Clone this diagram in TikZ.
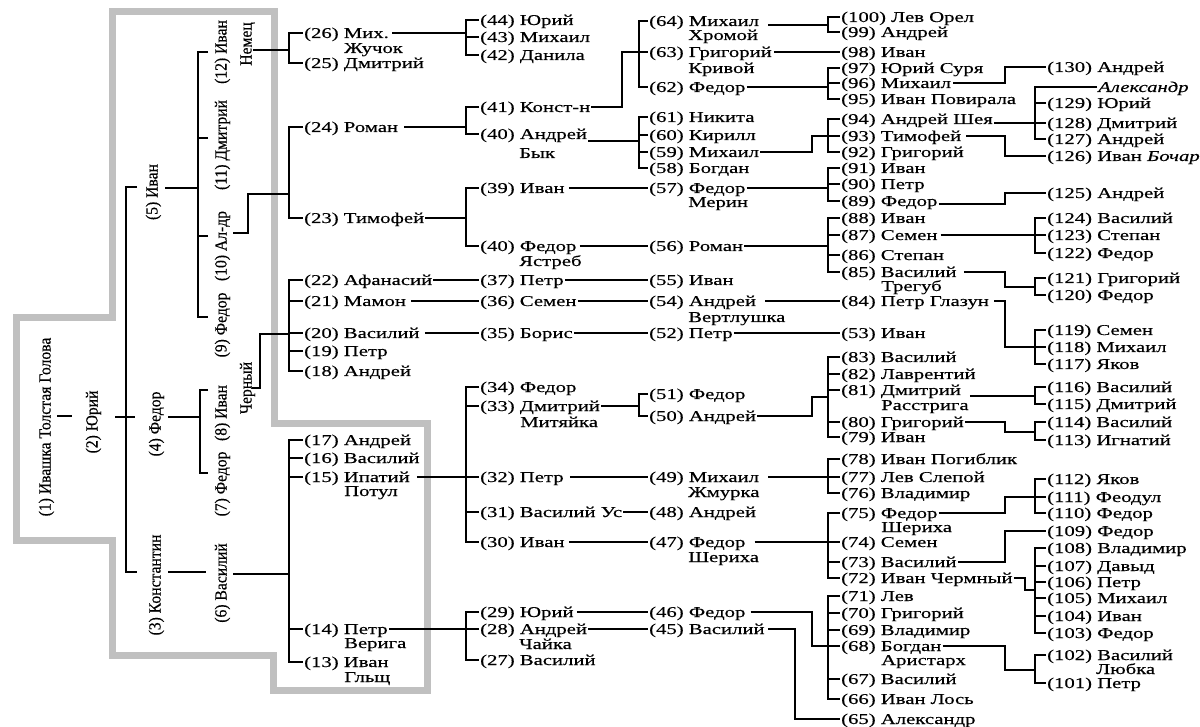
\documentclass[tikz,border=0pt]{standalone}
\usepackage{fontspec}
\setmainfont[FakeStretch=1.38,FakeBold=0.35]{Liberation Serif}
\newfontfamily\rotfam[FakeStretch=0.92,FakeBold=0.35]{Liberation Serif}
\newcommand\lblfont{\fontsize{15}{15}\selectfont}
\newcommand\rotlblfont{\rotfam\fontsize{17}{17}\selectfont}
\definecolor{framegray}{RGB}{192,192,192}
\begin{document}
\begin{tikzpicture}[x=1pt,y=-1pt,
  lbl/.style={anchor=west,inner xsep=1pt,inner ysep=0pt,text height=12pt,text depth=2pt,font=\lblfont},
  rotlbl/.style={rotate=90,inner sep=0pt,text height=12pt,text depth=1pt,font=\rotlblfont},
  wire/.style={line width=1.1pt},
  border/.style={line width=7pt,draw=framegray,line join=miter}]
\useasboundingbox[fill=white] (0,0) rectangle (1200,727);

% grey outline around the first generations
\draw[border] (112,12) -- (274,12) -- (274,423) -- (427,423) -- (427,690) -- (273,690)
  -- (273,655) -- (112,655) -- (112,540) -- (16,540) -- (16,318) -- (112,318) -- cycle;

% ---------- rotated generations ----------
\node[rotlbl] (n1) at (45,427) {(1) Ивашка Толстая Голова};
\node[rotlbl] (n2) at (92,422) {(2) Юрий};
\node[rotlbl] (n5) at (152,192) {(5) Иван};
\node[rotlbl] (n4) at (155,424) {(4) Федор};
\node[rotlbl] (n3) at (155,585) {(3) Константин};
\node[rotlbl] (n12) at (221,52) {(12) Иван};
\node[rotlbl] (n12b) at (246,44) {Немец};
\node[rotlbl] (n11) at (221,145) {(11) Дмитрий};
\node[rotlbl] (n10) at (221,246) {(10) Ал-др};
\node[rotlbl] (n9) at (221,325) {(9) Федор};
\node[rotlbl] (n8) at (221,413) {(8) Иван};
\node[rotlbl] (n8b) at (246,388) {Черный};
\node[rotlbl] (n7) at (221,484) {(7) Федор};
\node[rotlbl] (n6) at (221,583) {(6) Василий};

% ---------- column A ----------
\node[lbl] (n26) at (303,33) {(26) Мих.};
\node[lbl] (n26b) at (343,48) {Жучок};
\node[lbl] (n25) at (303,63) {(25) Дмитрий};
\node[lbl] (n24) at (303,127) {(24) Роман};
\node[lbl] (n23) at (303,218) {(23) Тимофей};
\node[lbl] (n22) at (303,280) {(22) Афанасий};
\node[lbl] (n21) at (303,301) {(21) Мамон};
\node[lbl] (n20) at (303,333) {(20) Василий};
\node[lbl] (n19) at (303,351) {(19) Петр};
\node[lbl] (n18) at (303,371) {(18) Андрей};
\node[lbl] (n17) at (303,440) {(17) Андрей};
\node[lbl] (n16) at (303,458) {(16) Василий};
\node[lbl] (n15) at (303,477) {(15) Ипатий};
\node[lbl] (n15b) at (343,491) {Потул};
\node[lbl] (n14) at (303,629) {(14) Петр};
\node[lbl] (n14b) at (343,643) {Верига};
\node[lbl] (n13) at (303,662) {(13) Иван};
\node[lbl] (n13b) at (343,677) {Гльщ};

% ---------- column B ----------
\node[lbl] (n44) at (479,20) {(44) Юрий};
\node[lbl] (n43) at (479,37) {(43) Михаил};
\node[lbl] (n42) at (479,55) {(42) Данила};
\node[lbl] (n41) at (479,107) {(41) Конст-н};
\node[lbl] (n40) at (479,134) {(40) Андрей};
\node[lbl] (n40b) at (518,153) {Бык};
\node[lbl] (n39) at (479,188) {(39) Иван};
\node[lbl] (n40f) at (479,246) {(40) Федор};
\node[lbl] (n40fb) at (518,261) {Ястреб};
\node[lbl] (n37) at (479,280) {(37) Петр};
\node[lbl] (n36) at (479,301) {(36) Семен};
\node[lbl] (n35) at (479,333) {(35) Борис};
\node[lbl] (n34) at (479,387) {(34) Федор};
\node[lbl] (n33) at (479,406) {(33) Дмитрий};
\node[lbl] (n33b) at (519,422) {Митяйка};
\node[lbl] (n32) at (479,477) {(32) Петр};
\node[lbl] (n31) at (479,512) {(31) Василий Ус};
\node[lbl] (n30) at (479,542) {(30) Иван};
\node[lbl] (n29) at (479,612) {(29) Юрий};
\node[lbl] (n28) at (479,629) {(28) Андрей};
\node[lbl] (n28b) at (518,644) {Чайка};
\node[lbl] (n27) at (479,660) {(27) Василий};

% ---------- column C ----------
\node[lbl] (n64) at (648,21) {(64) Михаил};
\node[lbl] (n64b) at (687,35) {Хромой};
\node[lbl] (n63) at (648,52) {(63) Григорий};
\node[lbl] (n63b) at (687,68) {Кривой};
\node[lbl] (n62) at (648,87) {(62) Федор};
\node[lbl] (n61) at (648,117) {(61) Никита};
\node[lbl] (n60) at (648,135) {(60) Кирилл};
\node[lbl] (n59) at (648,152) {(59) Михаил};
\node[lbl] (n58) at (648,168) {(58) Богдан};
\node[lbl] (n57) at (648,188) {(57) Федор};
\node[lbl] (n57b) at (687,202) {Мерин};
\node[lbl] (n56) at (648,246) {(56) Роман};
\node[lbl] (n55) at (648,280) {(55) Иван};
\node[lbl] (n54) at (648,301) {(54) Андрей};
\node[lbl] (n54b) at (687,317) {Вертлушка};
\node[lbl] (n52) at (648,333) {(52) Петр};
\node[lbl] (n51) at (648,394) {(51) Федор};
\node[lbl] (n50) at (648,416) {(50) Андрей};
\node[lbl] (n49) at (648,477) {(49) Михаил};
\node[lbl] (n49b) at (687,492) {Жмурка};
\node[lbl] (n48) at (648,512) {(48) Андрей};
\node[lbl] (n47) at (648,542) {(47) Федор};
\node[lbl] (n47b) at (687,557) {Шериха};
\node[lbl] (n46) at (648,612) {(46) Федор};
\node[lbl] (n45) at (648,629) {(45) Василий};

% ---------- column D ----------
\node[lbl] (n100) at (840,17) {(100) Лев Орел};
\node[lbl] (n99) at (840,32) {(99) Андрей};
\node[lbl] (n98) at (840,52) {(98) Иван};
\node[lbl] (n97) at (840,68) {(97) Юрий Суря};
\node[lbl] (n96) at (840,83) {(96) Михаил};
\node[lbl] (n95) at (840,99) {(95) Иван Повирала};
\node[lbl] (n94) at (840,119) {(94) Андрей Шея};
\node[lbl] (n93) at (840,136) {(93) Тимофей};
\node[lbl] (n92) at (840,152) {(92) Григорий};
\node[lbl] (n91) at (840,168) {(91) Иван};
\node[lbl] (n90) at (840,184) {(90) Петр};
\node[lbl] (n89) at (840,201) {(89) Федор};
\node[lbl] (n88) at (840,218) {(88) Иван};
\node[lbl] (n87) at (840,235) {(87) Семен};
\node[lbl] (n86) at (840,255) {(86) Степан};
\node[lbl] (n85) at (840,272) {(85) Василий};
\node[lbl] (n85b) at (880,286) {Трегуб};
\node[lbl] (n84) at (840,301) {(84) Петр Глазун};
\node[lbl] (n53) at (840,333) {(53) Иван};
\node[lbl] (n83) at (840,357) {(83) Василий};
\node[lbl] (n82) at (840,374) {(82) Лаврентий};
\node[lbl] (n81) at (840,390) {(81) Дмитрий};
\node[lbl] (n81b) at (880,405) {Расстрига};
\node[lbl] (n80) at (840,422) {(80) Григорий};
\node[lbl] (n79) at (840,437) {(79) Иван};
\node[lbl] (n78) at (840,459) {(78) Иван Погиблик};
\node[lbl] (n77) at (840,477) {(77) Лев Слепой};
\node[lbl] (n76) at (840,493) {(76) Владимир};
\node[lbl] (n75) at (840,513) {(75) Федор};
\node[lbl] (n75b) at (880,527) {Шериха};
\node[lbl] (n74) at (840,542) {(74) Семен};
\node[lbl] (n73) at (840,562) {(73) Василий};
\node[lbl] (n72) at (840,578) {(72) Иван Чермный};
\node[lbl] (n71) at (840,596) {(71) Лев};
\node[lbl] (n70) at (840,613) {(70) Григорий};
\node[lbl] (n69) at (840,630) {(69) Владимир};
\node[lbl] (n68) at (840,646) {(68) Богдан};
\node[lbl] (n68b) at (880,660) {Аристарх};
\node[lbl] (n67) at (840,679) {(67) Василий};
\node[lbl] (n66) at (840,699) {(66) Иван Лось};
\node[lbl] (n65) at (840,719) {(65) Александр};

% ---------- column E ----------
\node[lbl] (n130) at (1046,67) {(130) Андрей};
\node[lbl] (alex) at (1097,87) {\textit{Александр}};
\node[lbl] (n129) at (1046,103) {(129) Юрий};
\node[lbl] (n128) at (1046,123) {(128) Дмитрий};
\node[lbl] (n127) at (1046,139) {(127) Андрей};
\node[lbl] (n126) at (1046,156) {(126) Иван \textit{Бочар}};
\node[lbl] (n125) at (1046,193) {(125) Андрей};
\node[lbl] (n124) at (1046,218) {(124) Василий};
\node[lbl] (n123) at (1046,235) {(123) Степан};
\node[lbl] (n122) at (1046,253) {(122) Федор};
\node[lbl] (n121) at (1046,278) {(121) Григорий};
\node[lbl] (n120) at (1046,295) {(120) Федор};
\node[lbl] (n119) at (1046,330) {(119) Семен};
\node[lbl] (n118) at (1046,347) {(118) Михаил};
\node[lbl] (n117) at (1046,364) {(117) Яков};
\node[lbl] (n116) at (1046,387) {(116) Василий};
\node[lbl] (n115) at (1046,404) {(115) Дмитрий};
\node[lbl] (n114) at (1046,422) {(114) Василий};
\node[lbl] (n113) at (1046,440) {(113) Игнатий};
\node[lbl] (n112) at (1046,479) {(112) Яков};
\node[lbl] (n111) at (1046,497) {(111) Феодул};
\node[lbl] (n110) at (1046,513) {(110) Федор};
\node[lbl] (n109) at (1046,531) {(109) Федор};
\node[lbl] (n108) at (1046,548) {(108) Владимир};
\node[lbl] (n107) at (1046,566) {(107) Давыд};
\node[lbl] (n106) at (1046,582) {(106) Петр};
\node[lbl] (n105) at (1046,598) {(105) Михаил};
\node[lbl] (n104) at (1046,616) {(104) Иван};
\node[lbl] (n103) at (1046,633) {(103) Федор};
\node[lbl] (n102) at (1046,655) {(102) Василий};
\node[lbl] (n102b) at (1095,669) {Любка};
\node[lbl] (n101) at (1046,683) {(101) Петр};

% ---------- bus and elbow positions ----------
\coordinate (bL) at (126,0);
\coordinate (bL5) at (198,0);
\coordinate (bL4) at (200,0);
\coordinate (bA) at (289,0);
\coordinate (bB) at (466,0);
\coordinate (bC) at (639,0);
\coordinate (bD) at (828,0);
\coordinate (bE) at (1035,0);
\coordinate (e41) at (622,0);
\coordinate (eD) at (812,0);
\coordinate (e45) at (795,0);
\coordinate (eE) at (1005,0);
\coordinate (e72) at (1025,0);

\coordinate (t1a) at (57,416);  \coordinate (t1b) at (72,416);
\coordinate (t2a) at (115,417); \coordinate (t2b) at (135,417);
\coordinate (k5) at (137,187);  \coordinate (k3) at (137,572);
\coordinate (s5) at (165,188);
\coordinate (s4) at (168,417);
\coordinate (s3) at (168,572);  \coordinate (s6) at (206,572);
\coordinate (k12) at (208,52);  \coordinate (k11) at (208,138);
\coordinate (k10) at (208,236); \coordinate (k9) at (208,317);
\coordinate (k8) at (208,390);  \coordinate (k7) at (208,473);
\coordinate (c12) at (253,50);
\coordinate (c10) at (233,233); \coordinate (c10e) at (248,194);
\coordinate (c8) at (252,388);  \coordinate (c8e) at (260,334);
\coordinate (c6) at (233,574);
\coordinate (j50) at (812,397);
\coordinate (j85) at (1035,287);
\coordinate (j81) at (1035,396);
\coordinate (j80) at (1035,432);
\coordinate (j72) at (1035,590);
\coordinate (j68) at (1035,670);

\begin{scope}[wire]
% left generations
\draw (t1a) -- (t1b);
\draw (t2a) -- (t2b);
\draw (k5) -- (k5 -| bL) -- (k3 -| bL) -- (k3);
\draw (s5) -- (s5 -| bL5);
\draw (k12) -- (k12 -| bL5) -- (k9 -| bL5) -- (k9);
\draw (k11) -- (k11 -| bL5);
\draw (k10) -- (k10 -| bL5);
\draw (s4) -- (s4 -| bL4);
\draw (k8) -- (k8 -| bL4) -- (k7 -| bL4) -- (k7);
\draw (s3) -- (s6);

% into column A
\draw (c12) -- (c12 -| bA);
\draw (n26.west) -- (n26.west -| bA) -- (n25.west -| bA) -- (n25.west);
\draw (c10) -| (c10e) -- (c10e -| bA);
\draw (n24.west) -- (n24.west -| bA) -- (n23.west -| bA) -- (n23.west);
\draw (c8) -| (c8e) -- (c8e -| bA);
\draw (n22.west) -- (n22.west -| bA) -- (n18.west -| bA) -- (n18.west);
\draw (n21.west) -- (n21.west -| bA);
\draw (n20.west) -- (n20.west -| bA);
\draw (n19.west) -- (n19.west -| bA);
\draw (c6) -- (c6 -| bA);
\draw (n17.west) -- (n17.west -| bA) -- (n13.west -| bA) -- (n13.west);
\draw (n16.west) -- (n16.west -| bA);
\draw (n15.west) -- (n15.west -| bA);
\draw (n14.west) -- (n14.west -| bA);

% column A to column B
\draw ([xshift=2pt]n26.east) -- (n26.east -| bB);
\draw (n44.west) -- (n44.west -| bB) -- (n42.west -| bB) -- (n42.west);
\draw (n43.west) -- (n43.west -| bB);
\draw ([xshift=5pt]n24.east) -- (n24.east -| bB);
\draw (n41.west) -- (n41.west -| bB) -- (n40.west -| bB) -- (n40.west);
\draw (n23.east) -- (n23.east -| bB);
\draw (n39.west) -- (n39.west -| bB) -- (n40f.west -| bB) -- (n40f.west);
\draw (n22.east) -- (n37.west);
\draw ([xshift=4pt]n21.east) -- (n36.west);
\draw ([xshift=4pt]n20.east) -- (n35.west);
\draw ([xshift=6pt]n15.east) -- (n32.west);
\draw (n34.west) -- (n34.west -| bB) -- (n30.west -| bB) -- (n30.west);
\draw (n33.west) -- (n33.west -| bB);
\draw (n31.west) -- (n31.west -| bB);
\draw (n14.east) -- (n28.west);
\draw (n29.west) -- (n29.west -| bB) -- (n27.west -| bB) -- (n27.west);

% column B to column C
\draw (n41.east) -| (e41 |- n63.west) -- (n63.west);
\draw (n64.west) -- (n64.west -| bC) -- (n62.west -| bC) -- (n62.west);
\draw ([yshift=-7pt]n40.east) coordinate (o40) -- (o40 -| bC);
\draw (n61.west) -- (n61.west -| bC) -- (n58.west -| bC) -- (n58.west);
\draw (n60.west) -- (n60.west -| bC);
\draw (n59.west) -- (n59.west -| bC);
\draw ([xshift=3pt]n39.east) -- (n57.west);
\draw ([xshift=2pt]n40f.east) -- (n56.west);
\draw (n37.east) -- (n55.west);
\draw (n36.east) -- (n54.west);
\draw (n35.east) -- (n52.west);
\draw (n33.east) -- (n33.east -| bC);
\draw (n51.west) -- (n51.west -| bC) -- (n50.west -| bC) -- (n50.west);
\draw ([xshift=5pt]n32.east) -- (n49.west);
\draw (n31.east) -- (n48.west);
\draw ([xshift=3pt]n30.east) -- (n47.west);
\draw ([xshift=2pt]n29.east) -- (n46.west);
\draw (n28.east) -- (n45.west);

% column C to column D
\draw ([xshift=8pt,yshift=-4pt]n64.east) coordinate (o64) -- (o64 -| bD);
\draw (n100.west) -- (n100.west -| bD) -- (n99.west -| bD) -- (n99.west);
\draw ([xshift=1pt]n63.east) -- (n98.west);
\draw (n62.east) -- (n62.east -| bD);
\draw (n97.west) -- (n97.west -| bD) -- (n95.west -| bD) -- (n95.west);
\draw (n96.west) -- (n96.west -| bD);
\draw (n59.east) -| (eD |- n93.west) -- (n93.west);
\draw (n94.west) -- (n94.west -| bD) -- (n92.west -| bD) -- (n92.west);
\draw (n57.east) -- (n57.east -| bD);
\draw (n91.west) -- (n91.west -| bD) -- (n89.west -| bD) -- (n89.west);
\draw (n90.west) -- (n90.west -| bD);
\draw (n56.east) -- (n56.east -| bD);
\draw (n88.west) -- (n88.west -| bD) -- (n85.west -| bD) -- (n85.west);
\draw (n87.west) -- (n87.west -| bD);
\draw (n86.west) -- (n86.west -| bD);
\draw ([xshift=8pt]n54.east) -- (n84.west);
\draw (n52.east) -- (n53.west);
\draw (n50.east) -| (j50) -- (j50 -| bD);
\draw (n83.west) -- (n83.west -| bD) -- (n79.west -| bD) -- (n79.west);
\draw (n82.west) -- (n82.west -| bD);
\draw (n81.west) -- (n81.west -| bD);
\draw (n80.west) -- (n80.west -| bD);
\draw ([xshift=8pt]n49.east) -- (n77.west);
\draw (n78.west) -- (n78.west -| bD) -- (n76.west -| bD) -- (n76.west);
\draw ([xshift=8pt]n47.east) -- (n74.west);
\draw (n75.west) -- (n75.west -| bD) -- (n72.west -| bD) -- (n72.west);
\draw (n73.west) -- (n73.west -| bD);
\draw ([xshift=4pt]n46.east) -| (eD |- n68.west) -- (n68.west);
\draw (n71.west) -- (n71.west -| bD) -- (n66.west -| bD) -- (n66.west);
\draw (n70.west) -- (n70.west -| bD);
\draw (n69.west) -- (n69.west -| bD);
\draw (n67.west) -- (n67.west -| bD);
\draw ([xshift=2pt]n45.east) -| (e45 |- n65.west) -- (n65.west);

% column D to column E
\draw ([xshift=1pt]n96.east) -| (eE |- n130.west) -- (n130.west);
\draw ([yshift=-4pt]n94.east) -- (n128.west);
\draw (alex.west) -- (alex.west -| bE) -- (n127.west -| bE) -- (n127.west);
\draw (n129.west) -- (n129.west -| bE);
\draw ([xshift=4pt]n93.east) -| (eE |- n126.west) -- (n126.west);
\draw ([yshift=-3pt]n89.east) -| (eE |- n125.west) -- (n125.west);
\draw ([xshift=2pt]n87.east) -- (n123.west);
\draw (n124.west) -- (n124.west -| bE) -- (n122.west -| bE) -- (n122.west);
\draw ([xshift=6pt]n85.east) -| (eE |- j85) -- (j85);
\draw (n121.west) -- (n121.west -| bE) -- (n120.west -| bE) -- (n120.west);
\draw ([xshift=4pt]n84.east) -| (eE |- n118.west) -- (n118.west);
\draw (n119.west) -- (n119.west -| bE) -- (n117.west -| bE) -- (n117.west);
\draw (n81b.east |- j81) -- (j81);
\draw (n116.west) -- (n116.west -| bE) -- (n115.west -| bE) -- (n115.west);
\draw (n80.east) -| (eE |- j80) -- (j80);
\draw (n114.west) -- (n114.west -| bE) -- (n113.west -| bE) -- (n113.west);
\draw (n75.east) -| (eE |- n111.west) -- (n111.west);
\draw (n112.west) -- (n112.west -| bE) -- (n110.west -| bE) -- (n110.west);
\draw (n73.east) -| (eE |- n109.west) -- (n109.west);
\draw (n72.east) -| (e72 |- j72) -- (j72);
\draw (n108.west) -- (n108.west -| bE) -- (n103.west -| bE) -- (n103.west);
\draw (n107.west) -- (n107.west -| bE);
\draw (n106.west) -- (n106.west -| bE);
\draw (n105.west) -- (n105.west -| bE);
\draw (n104.west) -- (n104.west -| bE);
\draw (n68.east) -| (eE |- j68) -- (j68);
\draw (n102.west) -- (n102.west -| bE) -- (n101.west -| bE) -- (n101.west);
\end{scope}
\end{tikzpicture}
\end{document}
